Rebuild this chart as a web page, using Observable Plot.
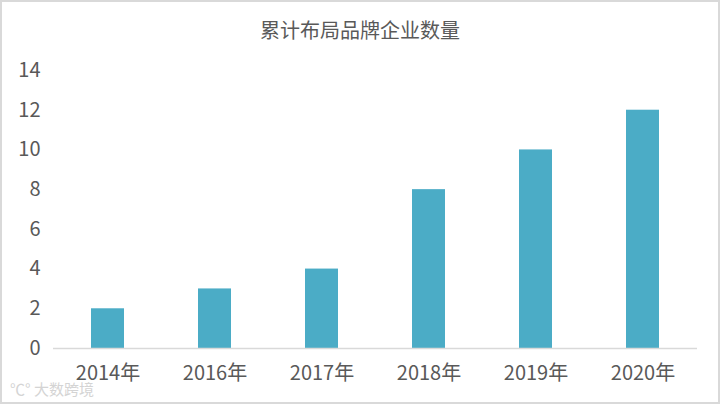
<!DOCTYPE html>
<html>
<head>
<meta charset="utf-8">
<script src="https://cdn.jsdelivr.net/npm/d3@7"></script>
<script src="https://cdn.jsdelivr.net/npm/@observablehq/plot@0.6"></script>
<style>
  html, body { margin: 0; padding: 0; background: #fff; }
  #frame {
    position: absolute; left: 0; top: 0; width: 720px; height: 404px;
    box-sizing: border-box; border: 2px solid #d9d9d9; background: #fff;
    font-family: "Noto Sans CJK SC", "Noto Sans", sans-serif;
  }
  #title {
    height: 44px; line-height: 56px; text-align: center;
    font-size: 20px; color: #595959;
  }
  #wm {
    position: absolute; left: 8px; bottom: 3px; font-size: 15px;
    color: #d4d4d4;
  }
</style>
</head>
<body>
<div id="frame">
  <div id="title">累计布局品牌企业数量</div>
  <div id="chart"></div>
  <div id="wm">℃° 大数跨境</div>
</div>
<script>
const categories = ["2014年", "2016年", "2017年", "2018年", "2019年", "2020年"];
const values = [2, 3, 4, 8, 10, 12];
const yTicks = [0, 2, 4, 6, 8, 10, 12, 14];

const data = categories.map((c, i) => ({category: c, value: values[i]}));

const chart = Plot.plot({
  width: 716,
  height: 356,
  marginTop: 24,
  marginBottom: 54,
  marginLeft: 51,
  marginRight: 21,
  style: {
    fontFamily: '"Noto Sans CJK SC", "Noto Sans", sans-serif',
    fontSize: "20px",
    color: "#595959",
    background: "#fff"
  },
  x: {domain: categories, paddingInner: 0.69, paddingOuter: 0.345, label: null},
  y: {domain: [0, 14], ticks: yTicks, label: null},
  marks: [
    Plot.axisY({ticks: yTicks, tickSize: 0, tickPadding: 13, label: null, fontSize: 20, fill: "#595959"}),
    Plot.axisX({tickSize: 0, tickPadding: 17, label: null, fontSize: 20, fill: "#595959"}),
    Plot.barY(data, {x: "category", y: "value", fill: "#4bacc6"}),
    Plot.ruleY([0], {stroke: "#d9d9d9", strokeWidth: 1.5})
  ]
});
document.getElementById("chart").appendChild(chart);
</script>
</body>
</html>
